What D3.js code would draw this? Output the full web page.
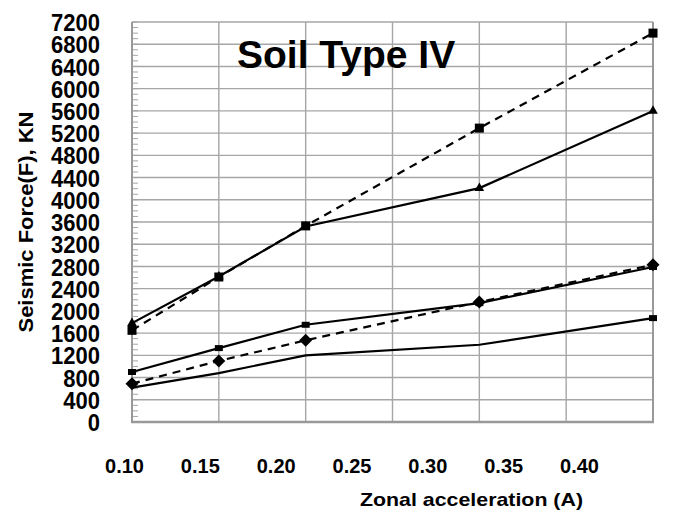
<!DOCTYPE html>
<html>
<head>
<meta charset="utf-8">
<script src="https://cdn.jsdelivr.net/npm/d3@7"></script>
<style>
  html, body { margin: 0; padding: 0; background: #fff; }
  svg { display: block; font-family: "Liberation Sans", Arial, sans-serif; font-weight: bold; }
</style>
</head>
<body>
<svg id="chart" width="684" height="515"></svg>
<script>
// Zonal acceleration values (x) and seismic force series (kN)
const accel = [0.10, 0.15, 0.20, 0.30, 0.40];
const xTickLabels = ["0.10", "0.15", "0.20", "0.25", "0.30", "0.35", "0.40"];
const yTicks = d3.range(0, 7201, 400);

const seriesDashedSquare   = [1650, 2610, 3530, 5290, 7000];
const seriesSolidTriangle  = [1780, 2620, 3520, 4210, 5600];
const seriesSolidRect      = [900, 1330, 1750, 2140, 2790];
const seriesDashedDiamond  = [690, 1100, 1470, 2160, 2830];
const seriesSolidPlain     = [620, 880, 1200, 1390, 1870];

const series = [
  { values: seriesSolidPlain,    dashed: false, marker: "rect",     markAt: [4] },
  { values: seriesDashedDiamond, dashed: true,  marker: "diamond",  markAt: [0, 1, 2, 3, 4] },
  { values: seriesSolidRect,     dashed: false, marker: "rect",     markAt: [0, 1, 2, 3, 4] },
  { values: seriesSolidTriangle, dashed: false, marker: "triangle", markAt: [0, 1, 2, 3, 4] },
  { values: seriesDashedSquare,  dashed: true,  marker: "square",   markAt: [0, 1, 2, 3, 4] }
];

const svg = d3.select("#chart");
const plotLeft = 132, plotRight = 653, plotTop = 22, plotBottom = 422;

const x = d3.scaleLinear().domain([0.10, 0.40]).range([plotLeft, plotRight]);
const y = d3.scaleLinear().domain([0, 7200]).range([plotBottom, plotTop]);
// tick labels sit on their own, slightly narrower spacing
const xLab = d3.scalePoint().domain(xTickLabels).range([124, 579]);

const grid = svg.append("g");
// horizontal gridlines
grid.selectAll("line.h").data(yTicks).join("line")
  .attr("x1", plotLeft).attr("x2", plotRight)
  .attr("y1", d => y(d)).attr("y2", d => y(d))
  .attr("stroke", "#a6a6a6").attr("stroke-width", 1.4);
// vertical gridlines
grid.selectAll("line.v").data(d3.range(0.10, 0.401, 0.05)).join("line")
  .attr("x1", d => x(d)).attr("x2", d => x(d))
  .attr("y1", plotTop).attr("y2", plotBottom)
  .attr("stroke", "#a6a6a6").attr("stroke-width", 1.4);
// minor ticks along the value axis
grid.selectAll("line.m").data(d3.range(0, 7201, 100)).join("line")
  .attr("x1", plotLeft).attr("x2", plotLeft + 6)
  .attr("y1", d => y(d)).attr("y2", d => y(d))
  .attr("stroke", "#a6a6a6").attr("stroke-width", 1);
// axis frame
grid.append("line").attr("x1", plotLeft).attr("x2", plotLeft).attr("y1", plotTop).attr("y2", plotBottom)
  .attr("stroke", "#999").attr("stroke-width", 2);
grid.append("line").attr("x1", plotLeft - 1).attr("x2", plotRight + 1).attr("y1", plotBottom).attr("y2", plotBottom)
  .attr("stroke", "#999").attr("stroke-width", 2.5);
grid.append("line").attr("x1", plotRight).attr("x2", plotRight).attr("y1", plotTop).attr("y2", plotBottom)
  .attr("stroke", "#999").attr("stroke-width", 2);

// y axis labels (tightly stacked, slightly tall glyphs)
const yAxis = d3.axisLeft(y).tickValues(yTicks).tickSize(0).tickPadding(0).tickFormat(d3.format("d"));
const ya = svg.append("g").attr("transform", "translate(100,0)").call(yAxis);
ya.select(".domain").remove();
ya.selectAll("text").attr("font-size", 22).attr("font-family", "Liberation Sans, Arial, sans-serif")
  .attr("font-weight", "bold").attr("fill", "#000").attr("x", 0).attr("y", 0).attr("dy", "0.36em")
  .attr("transform", "scale(1,1.08)");

// x axis labels
const xAxis = d3.axisBottom(xLab).tickSize(0).tickPadding(0);
const xa = svg.append("g").attr("transform", "translate(0,473)").call(xAxis);
xa.select(".domain").remove();
xa.selectAll("text").attr("font-size", 20).attr("font-family", "Liberation Sans, Arial, sans-serif")
  .attr("font-weight", "bold").attr("fill", "#000").attr("y", 0).attr("dy", 0);

// series lines
const line = d3.line().x((d, i) => x(accel[i])).y(d => y(d));
const plot = svg.append("g");
series.forEach(s => {
  plot.append("path").datum(s.values)
    .attr("d", line)
    .attr("fill", "none").attr("stroke", "#000").attr("stroke-width", 2.2)
    .attr("stroke-dasharray", s.dashed ? "8,6" : null);
});

// markers
series.forEach(s => {
  const g = plot.append("g");
  s.markAt.forEach(i => {
    const cx = x(accel[i]), cy = y(s.values[i]);
    if (s.marker === "square") {
      g.append("rect").attr("x", cx - 4.5).attr("y", cy - 4.5).attr("width", 9).attr("height", 9).attr("fill", "#000");
    } else if (s.marker === "rect") {
      g.append("rect").attr("x", cx - 4).attr("y", cy - 3).attr("width", 8).attr("height", 6).attr("fill", "#000");
    } else if (s.marker === "triangle") {
      g.append("path").attr("d", d3.symbol(d3.symbolTriangle, 40)()).attr("transform", `translate(${cx},${cy})`).attr("fill", "#000");
    } else if (s.marker === "diamond") {
      g.append("path").attr("d", `M${cx},${cy - 6.5}L${cx + 6.5},${cy}L${cx},${cy + 6.5}L${cx - 6.5},${cy}Z`).attr("fill", "#000");
    }
  });
});

// titles
svg.append("text").attr("x", 237).attr("y", 68).attr("font-size", 39).attr("fill", "#000")
  .text("Soil Type IV");
svg.append("text").attr("x", 360).attr("y", 506).attr("font-size", 19).attr("fill", "#000")
  .attr("textLength", 223).attr("lengthAdjust", "spacingAndGlyphs")
  .text("Zonal acceleration (A)");
svg.append("text").attr("transform", "translate(33,222) rotate(-90)").attr("text-anchor", "middle")
  .attr("font-size", 20).attr("fill", "#000")
  .attr("textLength", 221).attr("lengthAdjust", "spacingAndGlyphs")
  .text("Seismic Force(F), KN");
</script>
</body>
</html>
